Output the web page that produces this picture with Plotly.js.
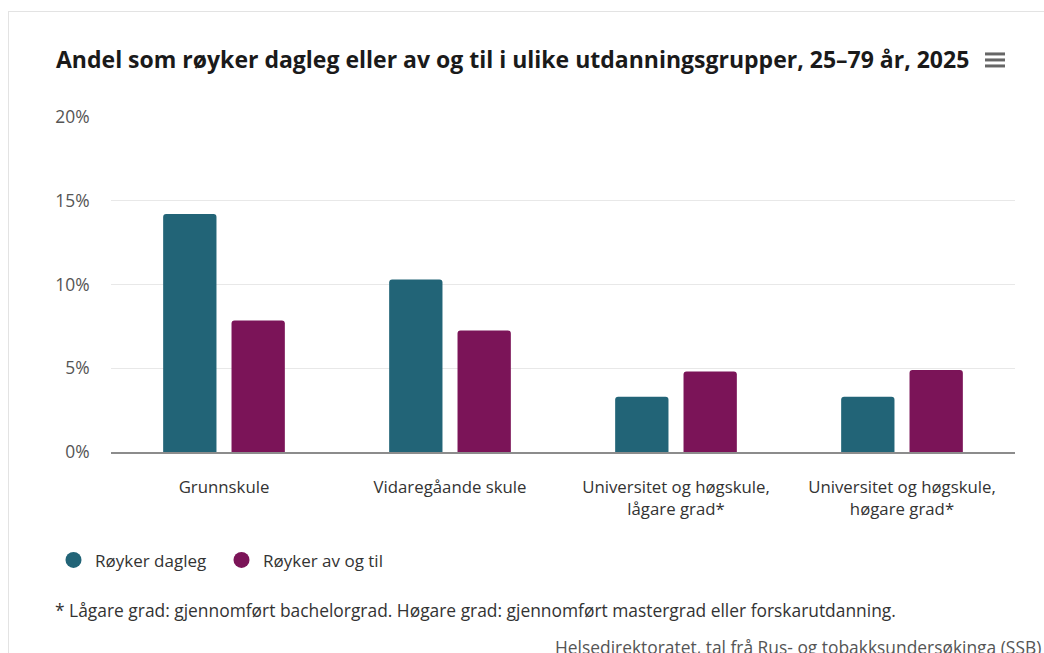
<!DOCTYPE html>
<html>
<head>
<meta charset="utf-8">
<script src="https://cdn.plot.ly/plotly-3.0.1.min.js"></script>
<style>
  html, body { margin: 0; padding: 0; background: #ffffff; }
  #chart { position: absolute; left: 0; top: 0; width: 1044px; height: 653px; }
  #frame { position: absolute; left: 8px; top: 11px; width: 1100px; height: 700px;
           border-left: 1px solid #e3e3e3; border-top: 1px solid #e3e3e3; pointer-events: none; }
</style>
</head>
<body>
<div id="chart"></div>
<div id="frame"></div>
<script>
const categories = [
  "Grunnskule",
  "Vidaregåande skule",
  "Universitet og høgskule,<br>lågare grad*",
  "Universitet og høgskule,<br>høgare grad*"
];
const seriesNames = ["Røyker dagleg", "Røyker av og til"];
const dagleg = [14.2, 10.3, 3.3, 3.3];
const avOgTil = [7.85, 7.25, 4.8, 4.9];
const yTickValues = [0, 5, 10, 15, 20];
const yTickLabels = ["0%", "5%", "10%", "15%", "20%"];
const titleText = "Andel som røyker dagleg eller av og til i ulike utdanningsgrupper, 25–79 år, 2025";
const footnote = "* Lågare grad: gjennomført bachelorgrad. Høgare grad: gjennomført mastergrad eller forskarutdanning.";
const credit = "Helsedirektoratet, tal frå Rus- og tobakksundersøkinga (SSB)";

const colors = ["#226477", "#7b1458"];
const font = "'Open Sans', 'Noto Sans', sans-serif";

const traces = [
  { type: "bar", x: categories, y: dagleg, name: seriesNames[0], showlegend: false,
    marker: { color: colors[0], cornerradius: 3, line: { width: 0 } }, hoverinfo: "y" },
  { type: "bar", x: categories, y: avOgTil, name: seriesNames[1], showlegend: false,
    marker: { color: colors[1], cornerradius: 3, line: { width: 0 } }, hoverinfo: "y" },
  { type: "scatter", mode: "markers", x: [null], y: [null], name: seriesNames[0],
    marker: { color: colors[0], size: 16, symbol: "circle" }, showlegend: true },
  { type: "scatter", mode: "markers", x: [null], y: [null], name: seriesNames[1],
    marker: { color: colors[1], size: 16, symbol: "circle" }, showlegend: true }
];

const layout = {
  width: 1044, height: 653,
  margin: { l: 111, r: 29, t: 116, b: 201 },
  paper_bgcolor: "rgba(0,0,0,0)",
  plot_bgcolor: "#ffffff",
  font: { family: font, color: "#333333", size: 14 },
  title: {
    text: titleText,
    font: { family: font, size: 23, color: "#1a1a1a", weight: 700 },
    xref: "container", x: 56 / 1044, xanchor: "left",
    yref: "container", y: 1 - 60 / 653, yanchor: "middle"
  },
  barmode: "group",
  bargap: 0.395,
  bargroupgap: 0.22,
  xaxis: {
    type: "category",
    tickfont: { family: font, size: 16.8, color: "#333333" },
    showline: true, linecolor: "#8c8c8c", linewidth: 2,
    ticks: "", showgrid: false, zeroline: false,
    ticklabelstandoff: 19,
    fixedrange: true
  },
  yaxis: {
    range: [0, 20.05],
    tickvals: yTickValues, ticktext: yTickLabels,
    tickfont: { family: font, size: 17.4, color: "#555555" },
    gridcolor: "#e8e8e8", gridwidth: 1,
    zeroline: false, showline: false,
    ticks: "outside", ticklen: 17, tickcolor: "rgba(0,0,0,0)",
    fixedrange: true
  },
  legend: {
    orientation: "h",
    x: (52 - 111) / 904, xanchor: "left",
    y: (451.7 - 560) / 335.7, yanchor: "middle",
    itemwidth: 33,
    entrywidth: 120, entrywidthmode: "pixels",
    font: { family: font, size: 17, color: "#333333" },
    itemclick: false, itemdoubleclick: false
  },
  annotations: [
    { text: footnote, xref: "paper", yref: "paper",
      x: (53 - 111) / 904, xanchor: "left", y: (451.7 - 610) / 335.7, yanchor: "middle",
      showarrow: false, font: { family: font, size: 17.4, color: "#333333" } },
    { text: credit, xref: "paper", yref: "paper",
      x: (1043 - 111) / 904, xanchor: "right", y: (451.7 - 647) / 335.7, yanchor: "middle",
      showarrow: false, font: { family: font, size: 17.4, color: "#555555" } }
  ],
  shapes: [0, 1, 2].map(i => ({
    type: "line", xref: "paper", yref: "paper",
    x0: (985 - 111) / 904, x1: (1005 - 111) / 904,
    y0: (451.7 - (54 + 6 * i)) / 335.7, y1: (451.7 - (54 + 6 * i)) / 335.7,
    line: { color: "#666666", width: 3 }
  }))
};

Plotly.newPlot("chart", traces, layout, { displayModeBar: false, staticPlot: false, responsive: false });
</script>
</body>
</html>
